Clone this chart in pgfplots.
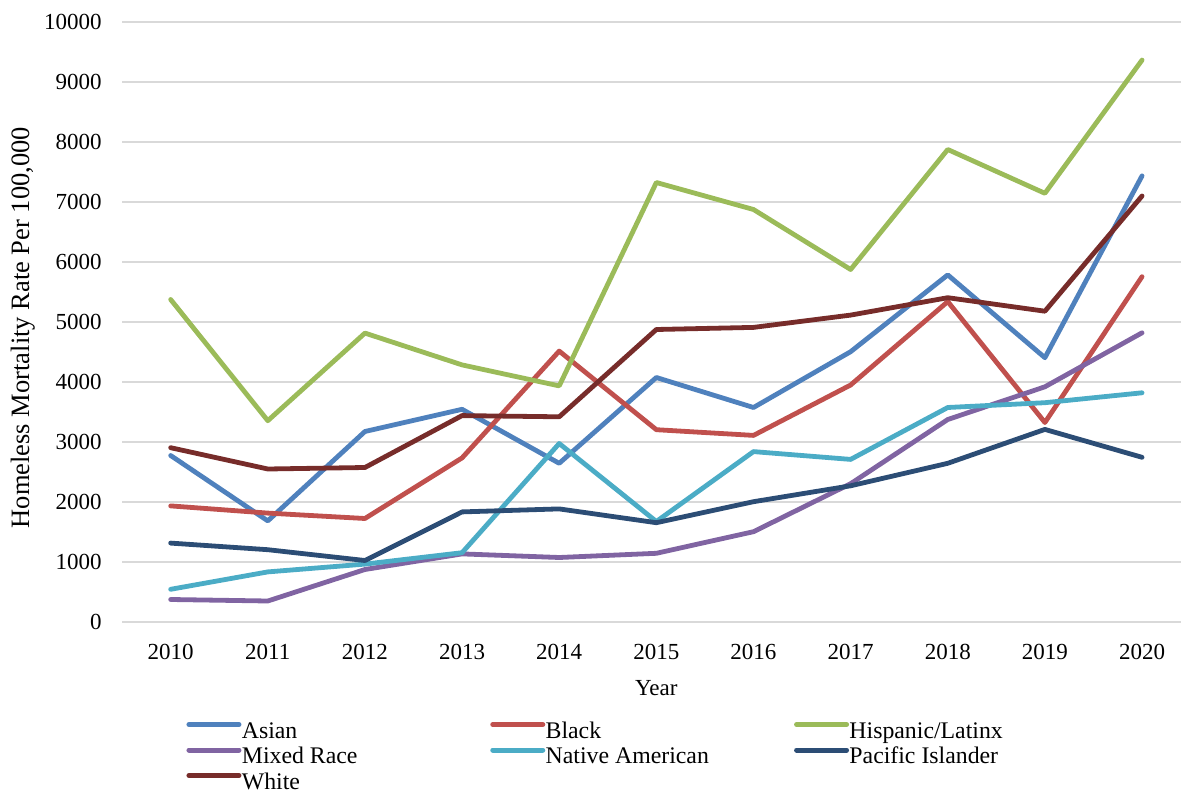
\documentclass[border=0pt]{standalone}
\usepackage{pgfplots}
\usepackage{pgfplotstable}
\pgfplotsset{compat=1.18}
\usepackage{fontspec}
\setmainfont{Liberation Serif}
\definecolor{cAsian}{HTML}{4F81BD}
\definecolor{cBlack}{HTML}{C0504D}
\definecolor{cHisp}{HTML}{9BBB59}
\definecolor{cMixed}{HTML}{8064A2}
\definecolor{cNative}{HTML}{4BACC6}
\definecolor{cPacific}{HTML}{2C4D75}
\definecolor{cWhite}{HTML}{772C2A}
\definecolor{cGrid}{HTML}{D9D9D9}
\pgfplotstableread{
Year Asian Black Hisp Mixed Native Pacific White
2010 2770 1930 5370 370 540 1310 2900
2011 1680 1810 3350 345 830 1200 2545
2012 3170 1720 4810 870 960 1020 2570
2013 3540 2730 4280 1130 1150 1830 3435
2014 2640 4510 3930 1070 2970 1880 3415
2015 4070 3200 7320 1140 1670 1650 4870
2016 3570 3105 6870 1500 2835 2000 4905
2017 4500 3945 5870 2300 2705 2265 5110
2018 5780 5335 7870 3370 3570 2640 5400
2019 4400 3320 7140 3915 3650 3205 5175
2020 7430 5750 9360 4815 3815 2740 7095
}\datatable
\newcommand{\lt}[1]{\makebox[123bp][l]{\fontsize{11.9bp}{14bp}\selectfont #1}}
\begin{document}
\begin{tikzpicture}[font=\fontsize{11.5bp}{13.8bp}\selectfont]
\path[use as bounding box] (-61.05bp,-84.15bp) rectangle (529.45bp,310.85bp);
\begin{axis}[
  scale only axis,
  width=534.25bp, height=300bp,
  xmin=2009.5, xmax=2020.5,
  ymin=0, ymax=10000,
  xtick={2010,2011,...,2020},
  ytick={0,1000,...,10000},
  /pgf/number format/1000 sep={},
  /pgf/number format/assume math mode=true,
  scaled y ticks=false,
  major tick length=0pt,
  axis line style={draw=none},
  ymajorgrids,
  grid style={cGrid, line width=1bp},
  yticklabel style={anchor=east, inner sep=0pt, xshift=-10bp},
  xticklabel style={anchor=north, inner sep=0pt, yshift=-11bp},
  xlabel={Year},
  xlabel style={at={(axis description cs:0.5,0)}, anchor=north, inner sep=0pt, yshift=-29bp},
  ylabel={Homeless Mortality Rate Per 100,000},
  ylabel style={at={(axis description cs:-0.087,0.49)}, anchor=base, inner sep=0pt, font=\fontsize{13.25bp}{15bp}\selectfont},
  every axis plot/.append style={line width=2.4bp, line join=round, line cap=round},
  legend columns=3,
  legend cell align=left,
  legend image code/.code={\path (0bp,0bp) (27.5bp,0bp);\draw[#1, line width=2.5bp, line cap=round] (1.25bp,3.9bp) -- (26.25bp,3.9bp);},
  legend style={draw=none, fill=none, inner sep=0pt, outer sep=0pt,
    at={(axis description cs:0.058,-0.166)}, anchor=north west,
    row sep=1.75bp,
    nodes={inner sep=0pt, text height=8.5bp, text depth=2.5bp},
    /tikz/every odd column/.append style={column sep=-1bp},
    /tikz/every even column/.append style={column sep=0bp}},
]
\addplot[cAsian] table[x=Year, y=Asian] {\datatable};
\addlegendentry{\lt{Asian}}
\addplot[cBlack] table[x=Year, y=Black] {\datatable};
\addlegendentry{\lt{Black}}
\addplot[cHisp] table[x=Year, y=Hisp] {\datatable};
\addlegendentry{\lt{Hispanic/Latinx}}
\addplot[cMixed] table[x=Year, y=Mixed] {\datatable};
\addlegendentry{\lt{Mixed Race}}
\addplot[cNative] table[x=Year, y=Native] {\datatable};
\addlegendentry{\lt{Native American}}
\addplot[cPacific] table[x=Year, y=Pacific] {\datatable};
\addlegendentry{\lt{Pacific Islander}}
\addplot[cWhite] table[x=Year, y=White] {\datatable};
\addlegendentry{\lt{White}}
\end{axis}
\end{tikzpicture}
\end{document}
